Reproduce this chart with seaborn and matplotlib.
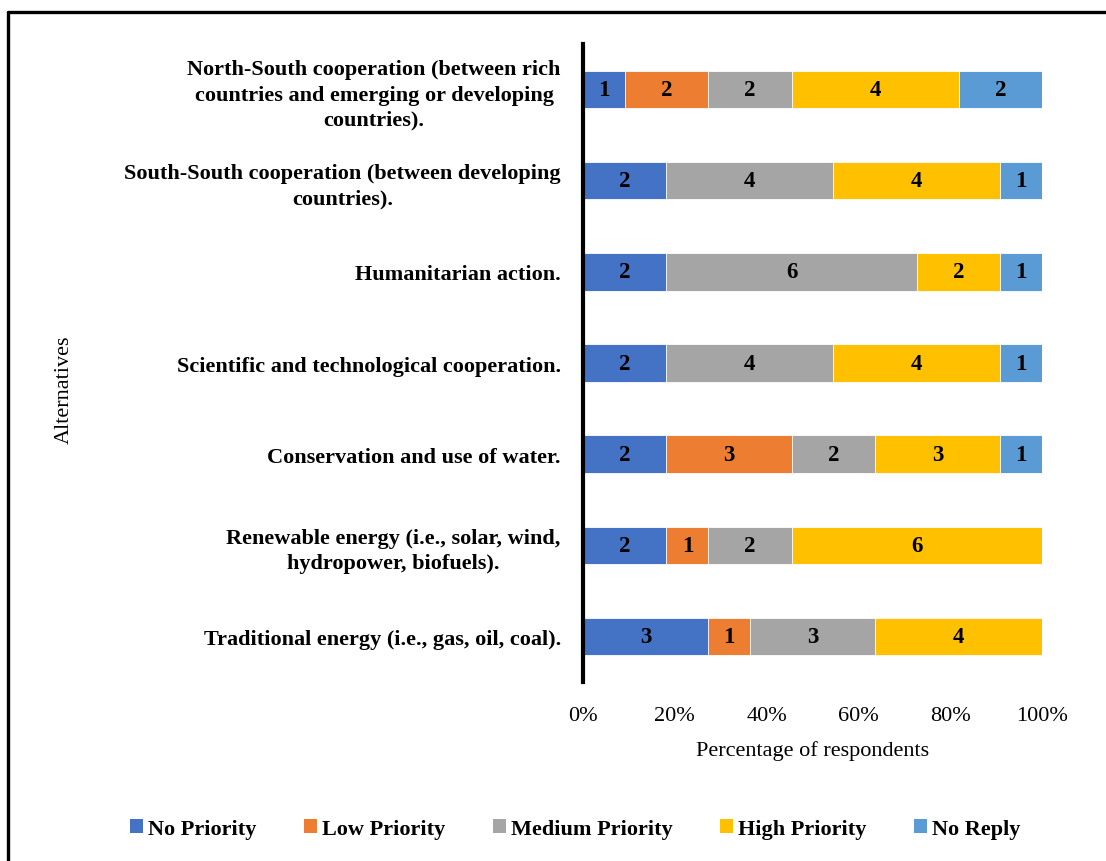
import numpy as np
import pandas as pd
import matplotlib
matplotlib.use("Agg")
import matplotlib.pyplot as plt
from matplotlib.lines import Line2D
from matplotlib.patches import Patch
import seaborn as sns

categories = [
    "North-South cooperation (between rich\ncountries and emerging or developing\ncountries).",
    "South-South cooperation (between developing\ncountries).",
    "Humanitarian action.",
    "Scientific and technological cooperation.",
    "Conservation and use of water.",
    "Renewable energy (i.e., solar, wind,\nhydropower, biofuels).",
    "Traditional energy (i.e., gas, oil, coal).",
]
series = ["No Priority", "Low Priority", "Medium Priority", "High Priority", "No Reply"]
no_priority = [1, 2, 2, 2, 2, 2, 3]
low_priority = [2, 0, 0, 0, 3, 1, 1]
medium_priority = [2, 4, 6, 4, 2, 2, 3]
high_priority = [4, 4, 2, 4, 3, 6, 4]
no_reply = [2, 1, 1, 1, 1, 0, 0]
colors = ["#4472C4", "#ED7D31", "#A5A5A5", "#FFC000", "#5B9BD5"]
xticks = [0, 20, 40, 60, 80, 100]

sns.set_style("white")
plt.rcParams["font.family"] = ["Liberation Serif", "DejaVu Serif"]
plt.rcParams["text.color"] = "black"
plt.rcParams["axes.labelcolor"] = "black"
plt.rcParams["xtick.color"] = "black"
plt.rcParams["ytick.color"] = "black"

counts = pd.DataFrame(
    np.array([no_priority, low_priority, medium_priority, high_priority, no_reply]).T,
    index=categories, columns=series)
pct = counts.div(counts.sum(axis=1), axis=0) * 100
cum = pct.cumsum(axis=1)

fig = plt.figure(figsize=(11.06, 8.62), dpi=100)
ax = fig.add_axes([583 / 1106, 1 - 683 / 862, 459 / 1106, 638 / 862])

for i in range(len(series) - 1, -1, -1):
    df = pd.DataFrame({"cat": categories, "val": cum.iloc[:, i].values})
    sns.barplot(data=df, y="cat", x="val", orient="h", color=colors[i],
                width=0.41, saturation=1, ax=ax, edgecolor="white", linewidth=0.6)

for r, cat in enumerate(categories):
    for i, s in enumerate(series):
        c = counts.loc[cat, s]
        if c > 0:
            xc = cum.loc[cat, s] - pct.loc[cat, s] / 2
            ax.text(xc, r, str(c), ha="center", va="center",
                    fontsize=16.5, fontweight="bold", color="black")

ax.set_xlim(0, 100)
ax.set_ylim(6.5, -0.5)
ax.set_xticks(xticks)
ax.set_xticklabels([f"{t}%" for t in xticks], fontsize=16)
ax.tick_params(axis="x", length=0, pad=17)
ax.tick_params(axis="y", length=0, pad=16)
for lab in ax.get_yticklabels():
    lab.set_fontsize(16)
    lab.set_fontweight("bold")
    lab.set_multialignment("center")
    lab.set_linespacing(1.35)
for sp in ["top", "right", "bottom"]:
    ax.spines[sp].set_visible(False)
ax.spines["left"].set_linewidth(3)
ax.spines["left"].set_color("black")
ax.set_xlabel("Percentage of respondents", fontsize=16, labelpad=11)
ax.set_ylabel("Alternatives", fontsize=16)
ax.yaxis.set_label_coords(-1.11, 0.459)

handles = [Patch(facecolor=c, edgecolor="none") for c in colors]
leg = fig.legend(handles, series, loc="center", bbox_to_anchor=(0.52, 1 - 830 / 862),
                 ncol=5, frameon=False, prop={"size": 16, "weight": "bold"},
                 handlelength=0.6, handleheight=0.6, handletextpad=0.2,
                 columnspacing=2.15)

fig.add_artist(Line2D([8 / 1106, 1], [1 - 13 / 862, 1 - 13 / 862], color="black",
                      lw=2.4, transform=fig.transFigure))
fig.add_artist(Line2D([8 / 1106, 8 / 1106], [0, 1 - 13 / 862], color="black",
                      lw=2.4, transform=fig.transFigure))

fig.savefig("out.png", dpi=100, facecolor="white")
